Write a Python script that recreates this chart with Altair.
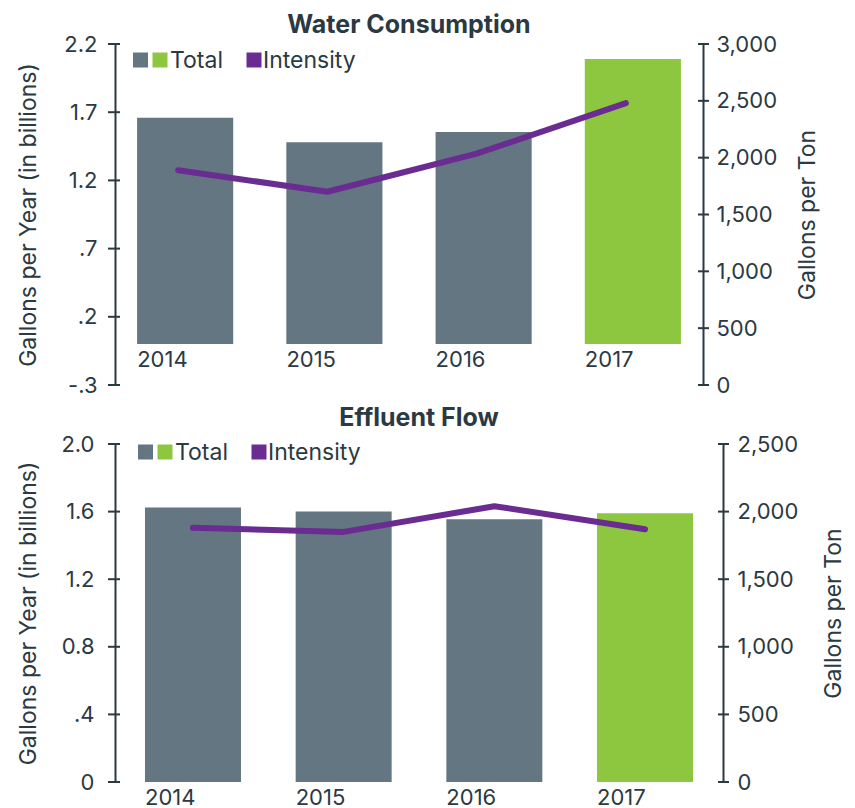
import altair as alt
import pandas as pd

years = ["2014", "2015", "2016", "2017"]
water_total = [1.66, 1.48, 1.555, 2.09]
water_intensity = [1890, 1700, 2035, 2480]
effluent_total = [1.625, 1.60, 1.555, 1.59]
effluent_intensity = [1880, 1850, 2040, 1870]

water_left_ticks = [-0.3, 0.2, 0.7, 1.2, 1.7, 2.2]
water_left_labels = ["-.3", ".2", ".7", "1.2", "1.7", "2.2"]
water_right_ticks = [0, 500, 1000, 1500, 2000, 2500, 3000]
effluent_left_ticks = [0, 0.4, 0.8, 1.2, 1.6, 2.0]
effluent_left_labels = ["0", ".4", "0.8", "1.2", "1.6", "2.0"]
effluent_right_ticks = [0, 500, 1000, 1500, 2000, 2500]
legend_labels = ["Total", "Intensity"]

DARK = "#2b3942"
GREY = "#637681"
GREEN = "#8dc63f"
PURPLE = "#6a2c91"
FONT = "Inter"
LAB = 22
TTL = 23


def label_expr(ticks, labels):
    keys = ",".join(str(int(round(t * 10))) for t in ticks)
    labs = ",".join("'" + s + "'" for s in labels)
    return f"[{labs}][indexof([{keys}], round(datum.value*10))]"


def panel(title, totals, intens, lticks, llabels, rticks, width, height,
          pad_inner, pad_outer, x_offset, left_lab_pad, left_title_x,
          right_lab_pad, right_title_x, leg_dx, leg_y, title_offset, line_dx):
    df = pd.DataFrame({"year": years, "total": totals, "intensity": intens})
    ldom = [lticks[0], lticks[-1]]
    rdom = [rticks[0], rticks[-1]]
    lscale = alt.Scale(domain=ldom, nice=False, zero=False)
    rscale = alt.Scale(domain=rdom, nice=False, zero=False)
    x = alt.X(
        "year:N", sort=years, title=None,
        scale=alt.Scale(paddingInner=pad_inner, paddingOuter=pad_outer),
        axis=alt.Axis(orient="bottom", offset=x_offset, domain=False, ticks=False,
                      labelAngle=0, labelAlign="left", labelOffset=-48,
                      labelPadding=5, labelBaseline="top", labelFontSize=LAB,
                      labelColor=DARK, labelFont=FONT),
    )
    lyaxis = alt.Axis(values=lticks, labelExpr=label_expr(lticks, llabels),
                      ticks=False, grid=False, domainColor=DARK, domainWidth=2,
                      labelPadding=left_lab_pad, labelFontSize=LAB, labelColor=DARK,
                      labelFont=FONT, title="Gallons per Year (in billions)",
                      titleFontSize=TTL, titleFontWeight="normal", titleColor=DARK,
                      titleFont=FONT, titleAngle=270, titleBaseline="middle",
                      titleX=left_title_x, titleY=height / 2)
    bars = alt.Chart(df).mark_bar().encode(
        x=x,
        y=alt.Y("total:Q", scale=lscale, axis=lyaxis),
        y2=alt.datum(0),
        color=alt.condition(alt.datum.year == "2017", alt.value(GREEN), alt.value(GREY)),
    )
    lt = alt.Chart(pd.DataFrame({"total": lticks})).mark_rule(color=DARK, strokeWidth=2).encode(
        y=alt.Y("total:Q", scale=lscale, axis=lyaxis), x=alt.value(-7), x2=alt.value(5))
    leg_df1 = pd.DataFrame({"label": [legend_labels[0]]})
    leg_df2 = pd.DataFrame({"label": [legend_labels[1]]})
    sq1 = alt.Chart(leg_df1).mark_square(size=225, filled=True, opacity=1, color=GREY).encode(
        x=alt.value(27.5 + leg_dx), y=alt.value(leg_y))
    sq2 = alt.Chart(leg_df1).mark_square(size=225, filled=True, opacity=1, color=GREEN).encode(
        x=alt.value(47 + leg_dx), y=alt.value(leg_y))
    tx1 = alt.Chart(leg_df1).mark_text(align="left", baseline="middle", fontSize=23,
                                       font=FONT, color=DARK).encode(
        x=alt.value(57 + leg_dx), y=alt.value(leg_y + 1), text="label:N")
    sq3 = alt.Chart(leg_df2).mark_square(size=225, filled=True, opacity=1, color=PURPLE).encode(
        x=alt.value(141 + leg_dx), y=alt.value(leg_y))
    tx2 = alt.Chart(leg_df2).mark_text(align="left", baseline="middle", fontSize=23,
                                       font=FONT, color=DARK).encode(
        x=alt.value(150 + leg_dx), y=alt.value(leg_y + 1), text="label:N")
    left = alt.layer(bars, lt, sq1, sq2, tx1, sq3, tx2)

    ryaxis = alt.Axis(orient="right", values=rticks, format=",d", ticks=False,
                      grid=False, domainColor=DARK, domainWidth=2,
                      labelPadding=right_lab_pad, labelFontSize=LAB, labelColor=DARK,
                      labelFont=FONT, title="Gallons per Ton", titleFontSize=TTL,
                      titleFontWeight="normal", titleColor=DARK, titleFont=FONT,
                      titleAngle=270, titleBaseline="middle",
                      titleX=right_title_x, titleY=height / 2)
    line = alt.Chart(df).mark_line(color=PURPLE, strokeWidth=6, strokeCap="round",
                                   strokeJoin="round", xOffset=line_dx).encode(
        x=alt.X("year:N", sort=years),
        y=alt.Y("intensity:Q", scale=rscale, axis=ryaxis),
    )
    rt = alt.Chart(pd.DataFrame({"intensity": rticks})).mark_rule(color=DARK, strokeWidth=2).encode(
        y=alt.Y("intensity:Q", scale=rscale, axis=ryaxis),
        x=alt.value(width - 5), x2=alt.value(width + 6))
    right = alt.layer(line, rt)

    return alt.layer(left, right).resolve_scale(y="independent").properties(
        width=width, height=height,
        title=alt.TitleParams(title, fontSize=25, fontWeight="bold", color=DARK, font=FONT,
                              anchor="middle", frame="group", offset=title_offset),
    )


top = panel("Water Consumption", water_total, water_intensity, water_left_ticks,
            water_left_labels, water_right_ticks, 588, 341, 0.356, 0.148,
            -41, 18, -87, 13, 104, -2, 16, -5, -7)
bottom = panel("Effluent Flow", effluent_total, effluent_intensity, effluent_left_ticks,
               effluent_left_labels, effluent_right_ticks, 608, 338, 0.363, 0.199,
               0, 21, -87, 14, 110, 3, 8, 2, 0)

chart = alt.concat(top, bottom, columns=1, spacing=10,
                   padding={"left": 9, "top": 5, "right": 0, "bottom": 0}
                   ).configure_view(stroke=None)

chart.save("out.html", embed_options={"renderer": "svg", "actions": False})
